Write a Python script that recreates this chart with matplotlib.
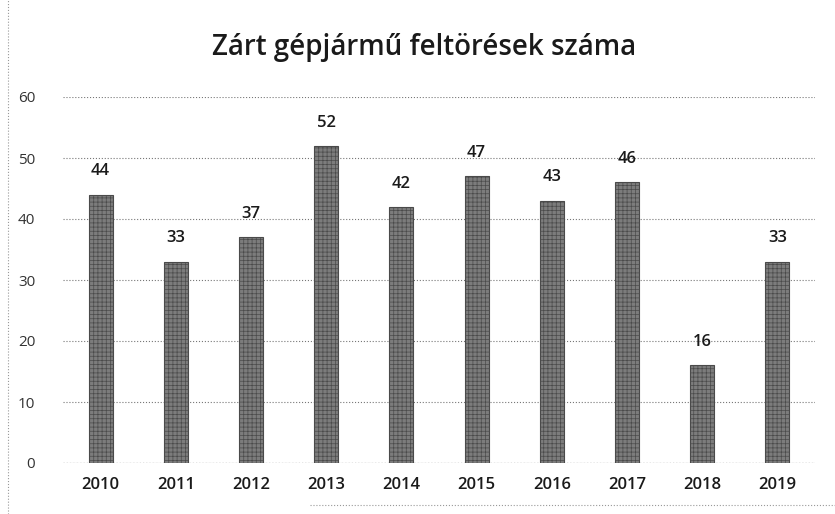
import matplotlib
matplotlib.use('Agg')
from matplotlib import pyplot as plt
import numpy as np

# yearly counts
years = ['2010', '2011', '2012', '2013', '2014', '2015', '2016', '2017', '2018', '2019']
counts = [44, 33, 37, 52, 42, 47, 43, 46, 16, 33]
y_ticks = [0, 10, 20, 30, 40, 50, 60]
title = 'Zárt gépjármű feltörések száma'

plt.rcParams['font.family'] = ['Open Sans', 'DejaVu Sans']

fig = plt.figure(figsize=(8.35, 5.14), dpi=100)
ax = fig.add_axes([63 / 835, 1 - 463 / 514, 752 / 835, 366 / 514])

x = np.arange(len(years))
bars = ax.bar(x, counts, width=0.32, color='#7c7c7c', edgecolor='#4a4a4a',
              linewidth=0.8, hatch='++++', zorder=3)
for b in bars:
    b.set_hatch_linewidth(0.5)

# value labels above bars
for xi, v in zip(x, counts):
    ax.annotate(str(v), (xi, v), xytext=(0, 11), textcoords='offset points',
                ha='center', va='bottom', fontsize=12, fontweight='semibold', color='#1a1a1a')

ax.set_xlim(-0.5, len(years) - 0.5)
ax.set_ylim(0, 60)
ax.set_yticks(y_ticks)
ax.set_yticklabels([str(t) for t in y_ticks], fontsize=11, color='#333333')
ax.set_xticks(x)
ax.set_xticklabels(years, fontsize=12, fontweight='semibold', color='#1a1a1a')
ax.tick_params(axis='both', length=0)
ax.tick_params(axis='y', pad=20)
ax.tick_params(axis='x', pad=10)
ax.grid(axis='y', linestyle=':', color='#777777', linewidth=0.8, zorder=0)
for s in ax.spines.values():
    s.set_visible(False)
ax.axhline(0, color='#777777', linestyle=':', linewidth=0.9, zorder=2)

fig.text(0.508, 1 - 47 / 514, title, ha='center', va='center', fontsize=20,
         fontweight='semibold', color='#1a1a1a')

# outer chart frame lines
fig.add_artist(plt.Line2D([8 / 835, 8 / 835], [0, 1], color='#999999', linestyle=':', linewidth=0.8))
fig.add_artist(plt.Line2D([310 / 835, 1], [1 - 505 / 514, 1 - 505 / 514], color='#999999', linestyle=':', linewidth=0.8))

fig.savefig('out.png', dpi=100)
